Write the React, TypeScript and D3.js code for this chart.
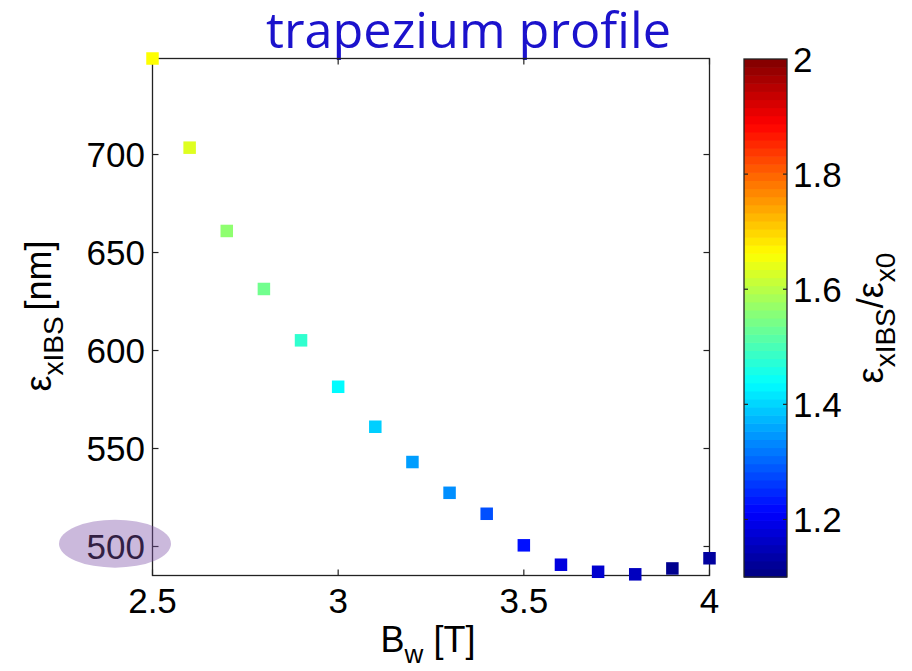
import React from "react";
import * as d3 from "d3";

const bw = [2.5, 2.6, 2.7, 2.8, 2.9, 3.0, 3.1, 3.2, 3.3, 3.4, 3.5, 3.6, 3.7, 3.8, 3.9, 4.0];
const emit = [749, 703.5, 661, 631.4, 605.2, 581.5, 561.1, 543.1, 527.4, 516.7, 500.6, 490.7, 487.1, 485.8, 488.8, 494.0];
const ratio = [1.662, 1.634, 1.564, 1.537, 1.48, 1.435, 1.395, 1.352, 1.339, 1.282, 1.226, 1.184, 1.17, 1.156, 1.114, 1.128];
const xTicks = [2.5, 3, 3.5, 4];
const yTicks = [500, 550, 600, 650, 700];
const cTicks = [1.2, 1.4, 1.6, 1.8, 2];

const W = 912, H = 671;
const P = { left: 152.5, right: 709.5, top: 58.5, bottom: 575.5 };
const CB = { left: 744, right: 787, top: 59, bottom: 577 };
const FONT = "'Liberation Sans', Arial, sans-serif";

function jet(t: number): string {
  const c = (v: number) => Math.max(0, Math.min(1, v));
  const r = c(1.5 - Math.abs(4 * t - 3));
  const g = c(1.5 - Math.abs(4 * t - 2));
  const b = c(1.5 - Math.abs(4 * t - 1));
  return d3.rgb(r * 255, g * 255, b * 255).formatHex();
}

export default function App() {
  const x = d3.scaleLinear().domain([2.5, 4]).range([P.left, P.right]);
  const y = d3.scaleLinear().domain([485.2, 749]).range([P.bottom, P.top]);
  const cy = d3.scaleLinear().domain([1.1, 2]).range([CB.bottom, CB.top]);
  const cnorm = d3.scaleLinear().domain([1.1, 2]).range([0, 1]).clamp(true);
  const steps = d3.range(64);
  const stepH = (CB.bottom - CB.top) / 64;
  const ms = 12.5;
  const axisColor = "#222";

  return (
    <svg width={W} height={H} style={{ position: "absolute", left: 0, top: 0, background: "#fff" }} fontFamily={FONT}>
      <rect x={0} y={0} width={W} height={H} fill="#fff" />
      {/* title */}
      <text x={468.5} y={48} textAnchor="middle" fontFamily="'Open Sans', 'Noto Sans', sans-serif" fontSize={49} fill="#1b12cc" textLength={405} lengthAdjust="spacingAndGlyphs">
        trapezium profile
      </text>

      {/* axes box */}
      <rect x={P.left} y={P.top} width={P.right - P.left} height={P.bottom - P.top} fill="none" stroke={axisColor} strokeWidth={1.3} />
      {xTicks.map((t) => (
        <g key={"xt" + t}>
          <line x1={x(t)} x2={x(t)} y1={P.bottom} y2={P.bottom - 6} stroke={axisColor} strokeWidth={1.2} />
          <line x1={x(t)} x2={x(t)} y1={P.top} y2={P.top + 6} stroke={axisColor} strokeWidth={1.2} />
          <text x={x(t)} y={613} textAnchor="middle" fontSize={35} fill="#000">{String(t)}</text>
        </g>
      ))}
      {yTicks.map((t) => (
        <g key={"yt" + t}>
          <line x1={P.left} x2={P.left + 6} y1={y(t)} y2={y(t)} stroke={axisColor} strokeWidth={1.2} />
          <line x1={P.right} x2={P.right - 6} y1={y(t)} y2={y(t)} stroke={axisColor} strokeWidth={1.2} />
          <text x={145} y={y(t)} dy="0.36em" textAnchor="end" fontSize={35} fill="#000">{String(t)}</text>
        </g>
      ))}

      {/* points */}
      {bw.map((b, i) => (
        <rect key={"p" + i} x={x(b) - ms / 2} y={y(emit[i]) - ms / 2} width={ms} height={ms} fill={jet(cnorm(ratio[i]))} />
      ))}

      {/* axis labels */}
      <text x={428} y={652} textAnchor="middle" fontSize={36} fill="#000">
        <tspan>B</tspan>
        <tspan dy={11} fontSize={26}>w</tspan>
        <tspan dy={-11}> [T]</tspan>
      </text>
      <text transform={`translate(51,316) rotate(-90)`} textAnchor="middle" fontSize={36} fill="#000">
        <tspan>ε</tspan>
        <tspan dy={12} fontSize={28}>xIBS</tspan>
        <tspan dy={-12} dx={6}>[nm]</tspan>
      </text>

      {/* colorbar */}
      {steps.map((s) => (
        <rect key={"cb" + s} x={CB.left} y={CB.bottom - (s + 1) * stepH} width={CB.right - CB.left} height={stepH + 0.6} fill={jet((s + 0.5) / 64)} />
      ))}
      <rect x={CB.left} y={CB.top} width={CB.right - CB.left} height={CB.bottom - CB.top} fill="none" stroke={axisColor} strokeWidth={1.3} />
      {cTicks.map((t) => (
        <g key={"ct" + t}>
          {t < 2 && <line x1={CB.left} x2={CB.left + 4} y1={cy(t)} y2={cy(t)} stroke={axisColor} strokeWidth={1.2} />}
          {t < 2 && <line x1={CB.right} x2={CB.right - 4} y1={cy(t)} y2={cy(t)} stroke={axisColor} strokeWidth={1.2} />}
          <text x={793} y={cy(t)} dy="0.36em" fontSize={35} fill="#000">{String(t)}</text>
        </g>
      ))}
      <text transform={`translate(883,318) rotate(-90)`} textAnchor="middle" fontSize={36} fill="#000">
        <tspan>ε</tspan>
        <tspan dy={12} fontSize={28}>xIBS</tspan>
        <tspan dy={-12}>/ε</tspan>
        <tspan dy={12} fontSize={28}>x0</tspan>
      </text>

      {/* highlight ellipse */}
      <ellipse cx={115} cy={543.7} rx={56} ry={24} fill="#7e4fa8" fillOpacity={0.4} />
    </svg>
  );
}
